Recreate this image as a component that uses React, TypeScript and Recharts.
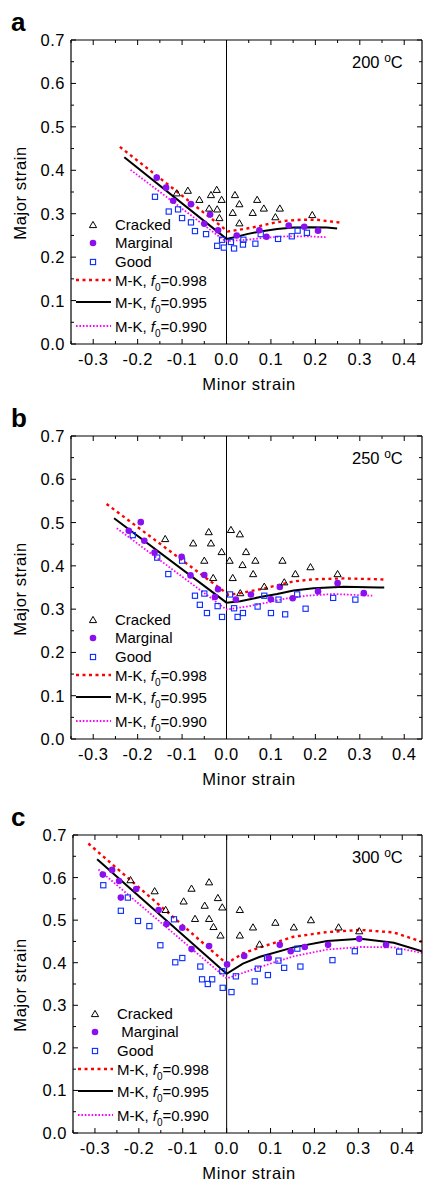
import React from "react";
import { ComposedChart, Scatter, Line, XAxis, YAxis, ReferenceLine } from "recharts";

type Pt = [number, number];

const FONT = "'Liberation Sans', Arial, Helvetica, sans-serif";

// axis ticks
const xMajor = [-0.3, -0.2, -0.1, 0, 0.1, 0.2, 0.3, 0.4];
const xMinor = [-0.35, -0.25, -0.15, -0.05, 0.05, 0.15, 0.25, 0.35];
const yMajor = [0, 0.1, 0.2, 0.3, 0.4, 0.5, 0.6, 0.7];
const yMinor = [0.05, 0.15, 0.25, 0.35, 0.45, 0.55, 0.65];

// (a) 200 °C
const crackedA: Pt[] = [
  [-0.112, 0.347], [-0.087, 0.353], [-0.061, 0.332], [-0.035, 0.343], [-0.022, 0.355],
  [-0.011, 0.332], [-0.039, 0.312], [-0.021, 0.31], [-0.016, 0.29], [0.019, 0.343],
  [0.029, 0.322], [0.014, 0.302], [0.029, 0.278], [0.059, 0.302], [0.069, 0.332],
  [0.084, 0.312], [0.11, 0.292], [0.12, 0.312], [0.193, 0.297],
];
const marginalA: Pt[] = [
  [-0.157, 0.383], [-0.136, 0.36], [-0.12, 0.33], [-0.08, 0.322], [-0.037, 0.298],
  [-0.05, 0.277], [-0.019, 0.262], [0.023, 0.25], [0.074, 0.262], [0.09, 0.247],
  [0.14, 0.273], [0.175, 0.27], [0.206, 0.261],
];
const goodA: Pt[] = [
  [-0.161, 0.339], [-0.13, 0.305], [-0.109, 0.31], [-0.1, 0.29], [-0.08, 0.28],
  [-0.071, 0.26], [-0.046, 0.253], [-0.01, 0.24], [-0.021, 0.226], [-0.006, 0.222],
  [0.01, 0.235], [0.017, 0.22], [0.038, 0.24], [0.037, 0.229], [0.065, 0.231],
  [0.077, 0.253], [0.116, 0.242], [0.147, 0.248], [0.16, 0.261], [0.181, 0.256],
];
const mk998A: Pt[] = [
  [-0.24, 0.454], [0.003, 0.259], [0.046, 0.266], [0.076, 0.272], [0.106, 0.279],
  [0.136, 0.284], [0.166, 0.286], [0.204, 0.286], [0.26, 0.279],
];
const mk995A: Pt[] = [
  [-0.23, 0.43], [0.0, 0.242], [0.023, 0.247], [0.046, 0.253], [0.076, 0.259],
  [0.114, 0.265], [0.151, 0.268], [0.189, 0.269], [0.226, 0.268], [0.249, 0.266],
];
const mk990A: Pt[] = [
  [-0.216, 0.401], [-0.003, 0.237], [0.046, 0.24], [0.091, 0.245], [0.136, 0.248],
  [0.181, 0.248], [0.223, 0.246],
];

// (b) 250 °C
const crackedB: Pt[] = [
  [-0.138, 0.462], [-0.075, 0.452], [-0.04, 0.478], [-0.035, 0.452], [-0.011, 0.432],
  [-0.05, 0.412], [-0.03, 0.372], [0.01, 0.483], [0.03, 0.473], [0.007, 0.412],
  [0.044, 0.432], [0.036, 0.402], [0.065, 0.412], [0.06, 0.381], [0.014, 0.372],
  [0.031, 0.337], [0.085, 0.352], [0.126, 0.412], [0.13, 0.362], [0.155, 0.381],
  [0.189, 0.397], [0.25, 0.381],
];
const marginalB: Pt[] = [
  [-0.193, 0.501], [-0.22, 0.481], [-0.185, 0.458], [-0.162, 0.431], [-0.101, 0.421],
  [-0.081, 0.378], [-0.05, 0.379], [-0.019, 0.346], [-0.026, 0.328], [0.021, 0.322],
  [0.055, 0.334], [0.1, 0.323], [0.12, 0.351], [0.149, 0.325], [0.206, 0.341],
  [0.25, 0.36], [0.309, 0.337],
];
const goodB: Pt[] = [
  [-0.211, 0.471], [-0.156, 0.419], [-0.131, 0.381], [-0.1, 0.412], [-0.071, 0.331],
  [-0.05, 0.336], [-0.06, 0.31], [-0.044, 0.291], [-0.02, 0.307], [-0.01, 0.282],
  [0.008, 0.334], [0.017, 0.302], [0.025, 0.282], [0.037, 0.291], [0.07, 0.306],
  [0.085, 0.331], [0.1, 0.291], [0.117, 0.322], [0.132, 0.288], [0.159, 0.334],
  [0.178, 0.301], [0.24, 0.326], [0.29, 0.322],
];
const mk998B: Pt[] = [
  [-0.27, 0.543], [0.005, 0.333], [0.031, 0.337], [0.076, 0.346], [0.114, 0.355],
  [0.151, 0.364], [0.196, 0.369], [0.264, 0.371], [0.343, 0.369], [0.36, 0.368],
];
const mk995B: Pt[] = [
  [-0.253, 0.51], [0.0, 0.315], [0.031, 0.318], [0.076, 0.328], [0.114, 0.335],
  [0.151, 0.343], [0.196, 0.348], [0.264, 0.352], [0.343, 0.35], [0.355, 0.35],
];
const mk990B: Pt[] = [
  [-0.247, 0.487], [0.0, 0.299], [0.046, 0.306], [0.091, 0.315], [0.136, 0.325],
  [0.181, 0.331], [0.241, 0.335], [0.328, 0.331],
];

// (c) 300 °C
const crackedC: Pt[] = [
  [-0.219, 0.594], [-0.164, 0.568], [-0.139, 0.524], [-0.098, 0.544], [-0.08, 0.574],
  [-0.072, 0.503], [-0.05, 0.534], [-0.04, 0.589], [-0.04, 0.503], [-0.03, 0.484],
  [-0.02, 0.552], [-0.01, 0.53], [-0.014, 0.464], [0.03, 0.524], [0.03, 0.464],
  [0.06, 0.483], [0.075, 0.443], [0.111, 0.494], [0.153, 0.483], [0.192, 0.5],
  [0.255, 0.483], [0.302, 0.474],
];
const marginalC: Pt[] = [
  [-0.282, 0.607], [-0.261, 0.618], [-0.245, 0.592], [-0.241, 0.553], [-0.206, 0.573],
  [-0.155, 0.524], [-0.137, 0.491], [-0.101, 0.482], [-0.08, 0.432], [-0.04, 0.439],
  [0.001, 0.396], [0.04, 0.416], [0.096, 0.411], [0.121, 0.442], [0.146, 0.427],
  [0.178, 0.437], [0.231, 0.442], [0.302, 0.456], [0.363, 0.442],
];
const goodC: Pt[] = [
  [-0.281, 0.582], [-0.241, 0.522], [-0.225, 0.553], [-0.202, 0.498], [-0.176, 0.486],
  [-0.151, 0.441], [-0.12, 0.502], [-0.117, 0.401], [-0.101, 0.411], [-0.06, 0.391],
  [-0.056, 0.361], [-0.043, 0.35], [-0.033, 0.361], [-0.01, 0.38], [-0.009, 0.341],
  [0.011, 0.331], [0.021, 0.368], [0.064, 0.356], [0.071, 0.386], [0.092, 0.411],
  [0.094, 0.371], [0.118, 0.405], [0.131, 0.388], [0.161, 0.433], [0.168, 0.391],
  [0.241, 0.406], [0.292, 0.427], [0.393, 0.426],
];
const mk998C: Pt[] = [
  [-0.315, 0.68], [0.0, 0.398], [0.037, 0.422], [0.076, 0.436], [0.152, 0.461],
  [0.229, 0.472], [0.305, 0.477], [0.381, 0.471], [0.445, 0.449],
];
const mk995C: Pt[] = [
  [-0.295, 0.643], [0.0, 0.374], [0.037, 0.398], [0.076, 0.414], [0.152, 0.436],
  [0.229, 0.451], [0.305, 0.456], [0.381, 0.447], [0.445, 0.427],
];
const mk990C: Pt[] = [
  [-0.292, 0.619], [0.0, 0.363], [0.037, 0.376], [0.076, 0.39], [0.152, 0.415],
  [0.229, 0.431], [0.305, 0.437], [0.381, 0.436], [0.445, 0.423],
];

const RED = "#ff0000";
const MAGENTA = "#ff00ff";
const PURPLE = "#8a10f0";
const BLUE = "#0a2cff";

const toXY = (a: Pt[]) => a.map(([x, y]) => ({ x, y }));
const isMajor = (arr: number[], v: number) => arr.some((m) => Math.abs(m - v) < 1e-9);

const Tri = ({ cx, cy }: any) => (
  <polygon
    points={`${cx},${cy - 3.6} ${cx - 3.6},${cy + 2.6} ${cx + 3.6},${cy + 2.6}`}
    fill="none"
    stroke="#000"
    strokeWidth={1}
  />
);
const Dot = ({ cx, cy }: any) => <circle cx={cx} cy={cy} r={3.3} fill={PURPLE} />;
const Sq = ({ cx, cy }: any) => (
  <rect x={cx - 2.6} y={cy - 2.6} width={5.2} height={5.2} fill="none" stroke={BLUE} strokeWidth={1.1} />
);

const LINE_STYLES = [
  { color: RED, width: 2.4, dash: "3 3.5", label: "0.998" },
  { color: "#000", width: 2, dash: undefined, label: "0.995" },
  { color: MAGENTA, width: 1.8, dash: "1.6 1.8", label: "0.990" },
];

interface PanelProps {
  letter: string;
  temp: string;
  top: number;
  height: number;
  plotTop: number;
  plotBottom: number;
  plotLeft: number;
  xMax: number;
  cracked: Pt[];
  marginal: Pt[];
  good: Pt[];
  curves: Pt[][];
  marginalLabel: string;
}

function Panel(p: PanelProps) {
  const W = 423;
  const plotRight = 422;
  const pt = p.plotTop - p.top;
  const pb = p.plotBottom - p.top;
  const xDomain = [-0.35, p.xMax];
  const xTicks = [...xMajor, ...xMinor].sort((a, b) => a - b);
  const yTicks = [...yMajor, ...yMinor].sort((a, b) => a - b);
  const txt = { fontFamily: FONT, fill: "#000", fontSize: 16.5, style: { letterSpacing: "0.5px" } };

  const bottomTick = (t: any) => {
    const major = isMajor(xMajor, t.payload.value);
    return (
      <g>
        <line x1={t.x} x2={t.x} y1={pb} y2={pb - (major ? 5 : 3)} stroke="#000" />
        {major && (
          <text x={t.x} y={pb + 21} textAnchor="middle" {...txt}>
            {t.payload.value.toFixed(1)}
          </text>
        )}
      </g>
    );
  };
  const topTick = (t: any) => {
    const major = isMajor(xMajor, t.payload.value);
    return <line x1={t.x} x2={t.x} y1={pt} y2={pt + (major ? 5 : 3)} stroke="#000" />;
  };
  const leftTick = (t: any) => {
    const major = isMajor(yMajor, t.payload.value);
    return (
      <g>
        <line x1={p.plotLeft} x2={p.plotLeft + (major ? 5 : 3)} y1={t.y} y2={t.y} stroke="#000" />
        {major && (
          <text x={p.plotLeft - 6} y={t.y + 6} textAnchor="end" {...txt}>
            {t.payload.value.toFixed(1)}
          </text>
        )}
      </g>
    );
  };
  const rightTick = (t: any) => {
    const major = isMajor(yMajor, t.payload.value);
    return <line x1={plotRight} x2={plotRight - (major ? 5 : 3)} y1={t.y} y2={t.y} stroke="#000" />;
  };

  const legendRows = [-119, -101, -82, -62, -40, -16].map((d) => p.plotBottom + d);
  const markerX = p.plotLeft + 22;
  const textX = p.plotLeft + 44;
  const rowText: React.CSSProperties = {
    position: "absolute",
    left: textX,
    transform: "translateY(-50%)",
    fontSize: 15,
    fontFamily: FONT,
    whiteSpace: "nowrap",
    lineHeight: "16px",
  };
  const title: React.CSSProperties = {
    position: "absolute",
    fontSize: 16.5,
    letterSpacing: "0.6px",
    fontFamily: FONT,
    whiteSpace: "nowrap",
  };

  return (
    <>
      <div style={{ position: "absolute", left: 0, top: p.top, width: W, height: p.height }}>
        <ComposedChart
          width={W}
          height={p.height}
          margin={{ top: pt - 1, right: 0, bottom: 0, left: 0 }}
        >
          <XAxis
            xAxisId={0}
            type="number"
            dataKey="x"
            domain={xDomain}
            ticks={xTicks}
            interval={0}
            allowDataOverflow
            height={p.top + p.height - p.plotBottom}
            tickLine={false}
            tickSize={0}
            axisLine={{ stroke: "#000", strokeWidth: 1.2 }}
            tick={bottomTick}
          />
          <XAxis
            xAxisId="top"
            orientation="top"
            type="number"
            dataKey="x"
            domain={xDomain}
            ticks={xTicks}
            interval={0}
            allowDataOverflow
            height={1}
            tickLine={false}
            tickSize={0}
            axisLine={{ stroke: "#000", strokeWidth: 1.2 }}
            tick={topTick}
          />
          <YAxis
            yAxisId={0}
            type="number"
            dataKey="y"
            domain={[0, 0.7]}
            ticks={yTicks}
            interval={0}
            allowDataOverflow
            width={p.plotLeft}
            tickLine={false}
            tickSize={0}
            axisLine={{ stroke: "#000", strokeWidth: 1.2 }}
            tick={leftTick}
          />
          <YAxis
            yAxisId="right"
            orientation="right"
            type="number"
            dataKey="y"
            domain={[0, 0.7]}
            ticks={yTicks}
            interval={0}
            allowDataOverflow
            width={W - plotRight}
            tickLine={false}
            tickSize={0}
            axisLine={{ stroke: "#000", strokeWidth: 1.2 }}
            tick={rightTick}
          />
          <ReferenceLine x={0} stroke="#000" strokeWidth={1} />
          {p.curves.map((c, i) => (
            <Line
              key={i}
              data={toXY(c)}
              dataKey="y"
              type="linear"
              stroke={LINE_STYLES[i].color}
              strokeWidth={LINE_STYLES[i].width}
              strokeDasharray={LINE_STYLES[i].dash}
              dot={false}
              activeDot={false}
              isAnimationActive={false}
            />
          ))}
          <Scatter data={toXY(p.good)} dataKey="y" shape={Sq} isAnimationActive={false} />
          <Scatter data={toXY(p.marginal)} dataKey="y" shape={Dot} isAnimationActive={false} />
          <Scatter data={toXY(p.cracked)} dataKey="y" shape={Tri} isAnimationActive={false} />
        </ComposedChart>
      </div>

      {/* panel letter, titles, temperature */}
      <div style={{ position: "absolute", left: 11, top: p.plotTop - 31, fontSize: 26, fontWeight: 700, fontFamily: FONT, lineHeight: "26px" }}>
        {p.letter}
      </div>
      <div
        style={{
          ...title,
          left: 20,
          top: (p.plotTop + p.plotBottom) / 2 + 1,
          transform: "translate(-50%, -50%) rotate(-90deg)",
        }}
      >
        Major strain
      </div>
      <div style={{ ...title, left: 249, top: p.plotBottom + 40, transform: "translate(-50%, -50%)" }}>
        Minor strain
      </div>
      <div
        style={{
          position: "absolute",
          left: 352,
          top: p.plotTop + 22,
          transform: "translateY(-50%)",
          fontSize: 16.5,
          fontFamily: FONT,
          whiteSpace: "nowrap",
        }}
      >
        {p.temp} <span style={{ fontSize: 12, position: "relative", top: -6 }}>o</span>C
      </div>

      {/* legend */}
      <svg style={{ position: "absolute", left: 0, top: 0, overflow: "visible" }} width={1} height={1}>
        <Tri cx={markerX} cy={legendRows[0]} />
        <Dot cx={markerX} cy={legendRows[1]} />
        <Sq cx={markerX} cy={legendRows[2]} />
        {LINE_STYLES.map((s, i) => (
          <line
            key={i}
            x1={p.plotLeft + 5}
            x2={p.plotLeft + 40}
            y1={legendRows[3 + i] - 2}
            y2={legendRows[3 + i] - 2}
            stroke={s.color}
            strokeWidth={s.width}
            strokeDasharray={s.dash}
          />
        ))}
      </svg>
      <div style={{ ...rowText, top: legendRows[0] }}>Cracked</div>
      <div style={{ ...rowText, top: legendRows[1] }}>{p.marginalLabel}</div>
      <div style={{ ...rowText, top: legendRows[2] }}>Good</div>
      {LINE_STYLES.map((s, i) => (
        <div key={i} style={{ ...rowText, top: legendRows[3 + i] }}>
          M-K, <i>f</i>
          <span style={{ fontSize: 10, position: "relative", top: 5 }}>0</span>={s.label}
        </div>
      ))}
    </>
  );
}

export default function App() {
  return (
    <div style={{ position: "absolute", left: 0, top: 0, width: 423, height: 1184, background: "#fff" }}>
      <Panel
        letter="a"
        temp="200"
        top={0}
        height={400}
        plotTop={40}
        plotBottom={344}
        plotLeft={71}
        xMax={0.44}
        cracked={crackedA}
        marginal={marginalA}
        good={goodA}
        curves={[mk998A, mk995A, mk990A]}
        marginalLabel="Marginal"
      />
      <Panel
        letter="b"
        temp="250"
        top={400}
        height={395}
        plotTop={436}
        plotBottom={739}
        plotLeft={71}
        xMax={0.44}
        cracked={crackedB}
        marginal={marginalB}
        good={goodB}
        curves={[mk998B, mk995B, mk990B]}
        marginalLabel="Marginal"
      />
      <Panel
        letter="c"
        temp="300"
        top={795}
        height={389}
        plotTop={835}
        plotBottom={1133}
        plotLeft={73}
        xMax={0.445}
        cracked={crackedC}
        marginal={marginalC}
        good={goodC}
        curves={[mk998C, mk995C, mk990C]}
        marginalLabel={"\u00a0Marginal"}
      />
    </div>
  );
}
